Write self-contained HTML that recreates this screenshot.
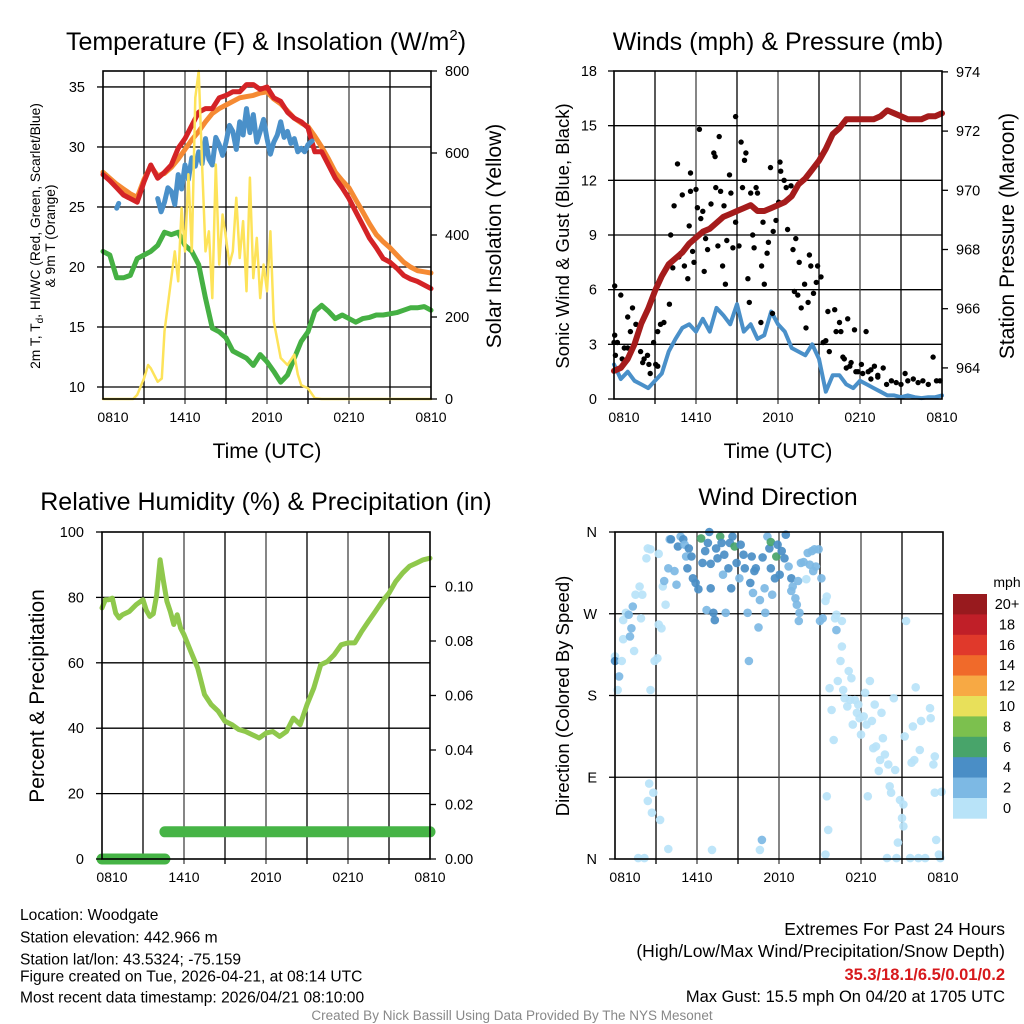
<!DOCTYPE html>
<html><head><meta charset="utf-8">
<style>
html,body{margin:0;padding:0;background:#fff;}
svg{display:block;font-family:"Liberation Sans",Arial,sans-serif;}
</style></head>
<body>
<svg id="chart" width="1024" height="1024" viewBox="0 0 1024 1024" xmlns="http://www.w3.org/2000/svg">
<rect width="1024" height="1024" fill="#fff"/>
<g id="p1"></g>
<g id="p2"></g>
<g id="p3"></g>
<g id="p4"></g>
<g font-size="15.6" fill="#000">
<text x="20" y="920">Location: Woodgate</text>
<text x="20" y="942.5">Station elevation: 442.966 m</text>
<text x="20" y="964.5">Station lat/lon: 43.5324; -75.159</text>
<text x="20" y="981.5">Figure created on Tue, 2026-04-21, at 08:14 UTC</text>
<text x="20" y="1002.5">Most recent data timestamp: 2026/04/21 08:10:00</text>
</g>
<g text-anchor="end">
<text x="1005" y="935" font-size="17.5">Extremes For Past 24 Hours</text>
<text x="1005" y="957" font-size="17.5">(High/Low/Max Wind/Precipitation/Snow Depth)</text>
<text x="1005" y="980" font-size="16.5" fill="#d7191c" font-weight="bold">35.3/18.1/6.5/0.01/0.2</text>
<text x="1005" y="1002" font-size="16.5">Max Gust: 15.5 mph On 04/20 at 1705 UTC</text>
</g>
<text x="512" y="1020" text-anchor="middle" font-size="13.5" fill="#888">Created By Nick Bassill Using Data Provided By The NYS Mesonet</text>
</svg>
<script>
// ---------- DATA ----------
const halfHours = [0,0.5,1,1.5,2,2.5,3,3.5,4,4.5,5,5.5,6,6.5,7,7.5,8,8.5,9,9.5,10,10.5,11,11.5,12,12.5,13,13.5,14,14.5,15,15.5,16,16.5,17,17.5,18,18.5,19,19.5,20,20.5,21,21.5,22,22.5,23,23.5,24];
const xTickLabels = ["0810","1410","2010","0210","0810"];
const xTickHours = [0,6,12,18,24];
const tempRed = [27.7,27.2,26.6,26.0,25.7,25.4,27.1,28.5,27.4,27.9,28.5,29.9,30.7,31.8,32.9,33.2,33.2,34.1,34.3,34.6,34.6,35.2,35.2,34.8,35.0,34.1,33.8,32.9,32.4,32.1,31.6,29.6,29.6,28.5,27.4,26.6,25.7,24.6,23.5,22.4,21.6,20.7,20.4,19.9,19.3,19.0,18.8,18.5,18.2];
const temp9mOrange = [27.9,27.4,26.9,26.5,26.1,25.8,27.3,28.4,27.6,27.8,28.3,29.0,29.8,30.6,31.3,32.1,32.8,33.2,33.5,33.8,34.1,34.2,34.3,34.5,34.6,34.0,33.6,33.0,32.4,32.0,31.7,30.9,30.0,29.0,27.9,27.2,26.6,25.6,24.6,23.6,22.7,22.1,21.6,21.0,20.4,20.0,19.7,19.6,19.5];
const dewGreen = [21.3,21.0,19.1,19.1,19.3,20.7,21.0,21.3,21.8,22.9,22.7,22.9,21.8,21.3,20.2,17.4,14.9,14.6,14.1,13.0,12.7,12.4,11.8,12.7,12.1,11.3,10.4,11.0,12.4,13.8,14.6,16.3,16.8,16.3,15.7,16.0,15.7,15.4,15.7,15.8,16.0,16.0,16.1,16.2,16.4,16.6,16.6,16.7,16.4];
const hiwcHours = [1,1.15,null,4,4.25,4.5,4.75,5,5.25,5.5,5.75,6,6.25,6.5,6.75,7,7.25,7.5,7.75,8,8.25,8.5,8.75,9,9.25,9.5,9.75,10,10.25,10.5,10.75,11,11.25,11.5,11.75,12,12.25,12.5,12.75,13,13.25,13.5,13.75,14,14.25,14.5,14.75,15,15.3];
const hiwcBlue = [24.9,25.3,null,25.7,24.6,25.4,26.6,26.3,25.2,27.7,26.5,28.5,27.3,29.1,28.4,29.6,28.6,30.7,29.0,28.5,30.8,30.2,29.3,30.4,31.8,31.3,29.8,32.1,31.0,33.2,31.2,32.7,30.4,31.3,32.3,30.7,29.4,30.4,31.0,32.1,30.8,31.3,30.3,30.7,29.6,29.9,29.6,30.2,30.5];
const solarHours = [0,2.2,2.5,3,3.3,3.5,4,4.3,4.5,5,5.25,5.5,5.75,6,6.25,6.5,6.75,7,7.25,7.5,7.75,8,8.25,8.5,8.75,9,9.25,9.5,9.75,10,10.25,10.5,10.75,11,11.25,11.5,11.75,12,12.25,12.5,13,13.5,14,14.25,14.5,15,15.5,16,24];
const solarYellow = [0,0,10,50,83,75,42,50,165,295,360,287,466,360,548,360,735,800,572,360,409,246,572,328,450,393,328,360,491,344,434,263,540,295,393,246,328,263,409,189,100,83,108,60,34,26,2,0,0];
const tempTicks = [10,15,20,25,30,35];
const solarTicks = [0,200,400,600,800];

const windBlue = [1.9,1.1,1.5,1.0,0.8,0.6,1.0,1.4,2.6,3.3,3.9,4.1,3.7,4.4,3.7,5.0,4.6,4.1,5.2,3.7,4.1,3.3,3.5,4.8,4.1,3.7,2.8,2.6,2.4,3.0,2.2,0.4,1.3,1.3,0.8,0.6,1.0,0.8,0.6,0.4,0.2,0.2,0.1,0.2,0.1,0.05,0.1,0.1,0.2];
const pressureMaroon = [963.9,964.0,964.3,964.8,965.5,966.0,966.6,967.1,967.5,967.7,967.9,968.2,968.4,968.6,968.7,968.9,969.1,969.2,969.3,969.4,969.5,969.3,969.3,969.4,969.5,969.6,969.8,970.2,970.4,970.7,971.0,971.4,971.9,972.1,972.4,972.4,972.4,972.4,972.4,972.5,972.7,972.6,972.5,972.4,972.4,972.4,972.5,972.5,972.6];
const gustHours = [0.05,0.05,0.5,0.25,0.75,1,1.2,1.35,1.6,1.95,2.1,2.45,2.65,3.2,2.9,3.2,3.4,3.65,4.05,4.15,4.3,4.4,4.65,4.75,4.9,5,5.15,5.4,5.5,5.6,5.6,5.75,5.85,6,6.1,6.25,6.35,6.5,6.6,6.7,6.85,7.1,7.3,7.4,7.45,7.6,7.7,7.8,7.95,8.05,8.15,8.25,8.45,8.55,8.7,8.9,8.9,9.15,9.3,9.4,9.55,9.65,9.8,9.9,10,10.15,10.25,10.4,10.5,10.75,10.8,10.9,11,11.2,11.3,11.45,11.6,11.65,11.85,12.05,12.15,12.2,12.45,12.6,12.7,12.95,13.1,13.2,13.3,13.45,13.55,13.7,13.95,14.05,14.2,14.3,14.4,14.6,14.8,14.9,15.15,15.3,15.5,15.65,15.75,16.15,16.25,16.5,16.6,16.85,17,17.1,17.35,17.6,17.85,18.1,18.45,18.6,18.8,19.05,19.3,19.7,19.95,20.3,20.65,21,21.3,21.5,21.9,22.25,22.6,23,23.35,23.6,23.85,16.75,17.25,17.7,18.2,18.8,19.3,0,0.1,0.6,1,2.2,2.55,3.05];
const gustMph = [3.5,6.2,5.7,3.1,2.8,4.5,3.7,5,4.1,2.6,2,2.4,1.4,1.8,3.1,3.7,4.1,4.2,5.2,9,7.2,10.6,12.9,7.8,8,11.2,7.3,6.6,9.5,12.4,11.4,8.1,7.5,11.5,10.5,14.8,9.9,10.3,7,8.8,8.2,10.7,13.5,13.3,11.6,8.4,14.4,11.4,7.3,10.6,6.3,8.7,12.3,11.3,8.3,15.5,9.7,8.4,14.1,11.6,13.1,13.5,6.6,5.3,11.3,9,8.3,11.6,11.3,4.2,7.3,9.7,6.3,8,8.6,12.7,4.7,9.2,9.8,10.8,13,12.5,12,11.6,9.3,11.7,8.2,5.9,8.8,5.7,7.5,5,6.3,3.9,5.3,7.9,7.3,5.8,6.4,7.3,6.7,3.1,3.2,4.8,2.6,4.9,3.7,4.2,3.7,2.2,1.7,4.4,2,3.8,1.5,1.9,3.7,1.5,1.1,1.8,1.2,1.7,0.8,1,0.9,0.8,1.4,1,1.1,0.9,1,0.8,2.3,1,1,2.3,1.8,1.5,1.4,1.6,1.3,3.1,2.4,2.2,2.8,2.2,1.9,1.9];
const windTicks = [0,3,6,9,12,15,18];
const pressureTicks = [964,966,968,970,972,974];

const rhHours = [0,0.25,0.5,0.75,1,1.25,1.5,2,2.5,3,3.25,3.5,3.75,4,4.25,4.5,4.75,5,5.25,5.5,5.75,6,6.5,7,7.5,8,8.5,9,9.5,10,10.5,11,11.5,12,12.5,13,13.5,14,14.5,15,15.5,16,16.5,17,17.5,18,18.5,19,19.5,20,20.5,21,21.5,22,22.5,23,23.5,24];
const rhValues = [76.8,79.3,79.3,79.8,75.2,73.7,74.7,75.7,77.8,79.3,76,74.2,75,80.8,91.5,84.9,78.8,75.7,71.7,74.7,70.6,68.6,63.5,58.4,50.3,47.2,45.2,42.1,41.1,39.6,39.0,38.0,37.0,38.5,39.0,37.5,39.0,43.1,41.1,47.2,52.3,59.4,60.4,62.5,65.5,66.1,66.1,69.6,72.7,75.7,78.8,81.3,84.9,87.5,89.5,90.5,91.5,92.0];
const precipHours = [0,2,4.6,4.6,10,16,24];
const precipValues = [0,0,0,0.01,0.01,0.01,0.01];
const rhTicks = [0,20,40,60,80,100];
const precipTicks = [0,0.02,0.04,0.06,0.08,0.10];

const dirHours = [0,0,0.2,0.3,0.5,0.6,0.6,0.8,1,1.1,1.2,1.3,1.4,1.5,1.8,1.9,2,2.3,2.4,2.6,2.6,2.9,3.1,3.2,3.4,3.2,3.5,3.6,3.7,3.9,4,4.1,4.35,4.5,4.6,4.8,5,5.1,5.2,5.3,5.4,5.6,5.7,5.9,6.1,6.3,6.4,6.6,6.7,6.8,6.9,7,7,7.2,7.3,7.4,7.5,7.7,7.8,7.9,8,8.1,8.3,8.4,8.5,8.6,8.75,8.9,9.1,9.2,9.4,9.5,9.7,9.8,9.9,10,10.1,10.2,10.3,10.5,10.6,10.8,10.95,11,11.15,11.3,11.4,11.4,11.5,11.7,11.8,11.9,12.05,12.2,12.4,12.5,12.7,12.9,12.9,13,13.2,13.3,13.4,13.5,13.45,13.6,13.8,14,14.1,14.25,14.4,14.5,14.6,14.7,14.9,15,15.1,15.2,15.4,15.5,15.4,15.5,15.6,15.7,15.85,16,16.1,16.2,16.2,16.6,16.6,16.3,16.5,16.7,16.8,17,17.1,17.2,17.3,17.4,17.55,17.7,17.8,17.9,18,18.2,18.3,18.4,18.5,18.65,18.8,18.9,19,19.1,19.3,19.4,19.5,19.6,19.75,19.9,20,20.1,20.2,20.4,20.5,20.6,20.7,20.85,21,21.1,21.1,21.2,21.3,21.6,21.7,21.8,21.9,22,22.2,22.3,22.4,22.7,23.05,23.1,23.3,23.4,23.4,23.5,23.7,23.9,23.8,2.5,2.8,2.4,2.7,3.3,3.9,1.7,2.15,7.1,10.75,10.6];
const dirDegrees = [223,218,186,201,218,242,263,271,269,245,254,278,229,291,300,265,291,331,342,341,186,218,221,258,254,336,300,306,280,320,352,352,317,302,344,355,352,346,333,320,342,333,309,304,297,353,326,339,274,348,360,325,298,271,263,342,331,355,348,313,335,271,320,348,298,355,344,326,309,346,335,320,271,218,304,333,293,317,320,255,285,332,298,271,355,342,349,320,291,309,333,346,313,339,331,357,322,309,295,300,287,280,306,271,262,326,327,308,337,324,339,317,341,322,341,262,309,265,284,289,5,69,32,188,164,131,265,269,252,262,234,196,218,186,177,168,207,175,199,148,175,161,170,155,137,157,183,148,69,196,152,122,170,124,97,109,161,133,115,1,104,80,73,177,98,1,18,65,45,60,36,135,262,1,106,146,109,189,1,120,152,1,166,155,104,73,113,21,5,74,1,83,73,64,51,43,11,1,1,10,21,10];
const dirSpeeds = [1,5,1,3,1,1,1,1,3,3,3,3,1,1,1,1,1,1,1,1,1,1,1,1,1,1,1,3,1,3,3,5,3,3,5,3,5,3,3,5,5,5,5,5,5,7,5,5,3,5,5,5,5,5,5,5,5,7,5,3,5,3,5,5,5,5,7,5,3,5,5,5,3,3,5,5,3,5,5,3,3,5,3,3,2,5,7,5,3,5,7,5,5,5,5,5,3,5,3,3,3,3,3,3,3,3,3,1,3,3,3,3,3,3,3,3,3,3,1,1,1,1,1,1,1,1,1,1,3,1,1,1,1,1,1,1,1,1,1,1,1,1,1,1,1,1,1,1,1,1,1,1,1,1,1,1,1,1,1,1,1,1,1,1,1,1,1,1,1,1,1,1,1,1,1,1,1,1,1,1,1,1,1,1,1,1,1,1,1,1,1,1,1,1,1,1,1,1,1,1,3,1,1,5,3,1];
const dirTickLabels = ["N","E","S","W","N"];
const dirTickValues = [0,90,180,270,360];
const speedBinLabels = ["0","2","4","6","8","10","12","14","16","18","20+"];
const speedBinColors = ["#b8e3f8","#7db9e4","#4a8ec6","#48a46a","#7cc04e","#e8e05a","#f7a944","#f06a2a","#e0392b","#c01f28","#981a1e"];

// ---------- HELPERS ----------
const NS = "http://www.w3.org/2000/svg";
function el(parent, tag, attrs, text) {
  const e = document.createElementNS(NS, tag);
  for (const k in attrs) e.setAttribute(k, attrs[k]);
  if (text !== undefined) e.textContent = text;
  parent.appendChild(e);
  return e;
}
function makeX(x0) { return h => x0 + h * 328 / 24; }
function makeY(top, bottom, vmin, vmax) { return v => bottom - (v - vmin) / (vmax - vmin) * (bottom - top); }
function pathD(xs, ys, sx, sy) {
  let d = "", pen = false;
  for (let i = 0; i < xs.length; i++) {
    if (xs[i] === null || ys[i] === null) { pen = false; continue; }
    d += (pen ? "L" : "M") + sx(xs[i]).toFixed(1) + "," + sy(ys[i]).toFixed(1);
    pen = true;
  }
  return d;
}
function frame(g, x0, top, bottom, name) {
  const fr = el(g, "rect", {x:x0, y:top, width:328, height:bottom-top, fill:"none", stroke:"#000", "stroke-width":1.6});
  
  
}
function vgrid(g, x0, top, bottom) {
  const sx = makeX(x0);
  for (let h = 3; h < 24; h += 3) {
    const ln = el(g, "line", {x1:sx(h), x2:sx(h), y1:top, y2:bottom+5, stroke:(h%6===0?"#444":"#000"), "stroke-width":1.3});
    
    
  }
}
function xAxis(g, x0, bottom, withTitle) {
  const sx = makeX(x0);
  xTickLabels.forEach((lab, i) => {
    let x = sx(xTickHours[i]);
    if (i === 0) x += 10;
    const t = el(g, "text", {x:x, y:bottom+23, "text-anchor":"middle", "font-size":14}, lab);
    
    
  });
  if (withTitle) {
    const tt = el(g, "text", {x:x0+164, y:bottom+59, "text-anchor":"middle", "font-size":21}, "Time (UTC)");
    
    
  }
}
function hgrid(g, x0, sy, ticks, labelX, fmt, name) {
  ticks.forEach(v => {
    const y = sy(v);
    const ln = el(g, "line", {x1:x0, x2:x0+328, y1:y, y2:y, stroke:"#000", "stroke-width":1.3});
    
    
  });
}
function yLabels(g, x, anchor, sy, ticks, labels, name, tickX, tickDir) {
  ticks.forEach((v, i) => {
    const y = sy(v);
    const t = el(g, "text", {x:x, y:y+5, "text-anchor":anchor, "font-size":14.5}, labels[i]);
    
    
    const tk = el(g, "line", {x1:tickX, x2:tickX+tickDir*6, y1:y, y2:y, stroke:"#000", "stroke-width":1.3});
    
    
  });
}
function rotText(g, x, y, size, txt, name) {
  const t = el(g, "text", {x:0, y:0, transform:`translate(${x},${y}) rotate(-90)`, "text-anchor":"middle", "font-size":size}, txt);
  
  
  return t;
}
function line(g, xs, ys, sx, sy, color, w, name) {
  const p = el(g, "path", {d:pathD(xs, ys, sx, sy), fill:"none", stroke:color, "stroke-width":w, "stroke-linejoin":"round", "stroke-linecap":"round"});
  
  
  return p;
}

// ---------- PANEL 1 ----------
(function(){
  const g = document.getElementById("p1");
  const x0 = 103, top = 71, bottom = 399;
  const sx = makeX(x0), sy = makeY(top, bottom, 9, 36.33), sy2 = makeY(top, bottom, 0, 800);
  const title = el(g, "text", {x:266, y:50, "text-anchor":"middle", "font-size":25});
  
  
  title.appendChild(document.createTextNode("Temperature (F) & Insolation (W/m"));
  el(title, "tspan", {dy:-10, "font-size":15}, "2");
  el(title, "tspan", {dy:10}, ")");
  hgrid(g, x0, sy, tempTicks, 0, null, "temp");
  vgrid(g, x0, top, bottom);
  line(g, halfHours, temp9mOrange, sx, sy, "#f58a33", 5, "temp-9m-line");
  line(g, halfHours, tempRed, sx, sy, "#d42326", 5, "temp-2m-line");
  line(g, hiwcHours, hiwcBlue, sx, sy, "#4a90c9", 5, "heat-index-line");
  line(g, halfHours, dewGreen, sx, sy, "#45b043", 5, "dewpoint-line");
  line(g, solarHours, solarYellow, sx, sy2, "#fde35a", 2.5, "solar-line");
  frame(g, x0, top, bottom, "temp");
  yLabels(g, 85, "end", sy, tempTicks, tempTicks.map(String), "temp-y", x0, -1);
  yLabels(g, 445, "start", sy2, solarTicks, solarTicks.map(String), "solar-y", x0+328, 1);
  xAxis(g, x0, bottom, true);
  rotText(g, 40, 236, 13.8, "2m T, T", "temp-y-title-line1");
  const t1 = g.lastChild; el(t1, "tspan", {dy:3, "font-size":10}, "d"); el(t1, "tspan", {dy:-3}, ", HI/WC (Red, Green, Scarlet/Blue)");
  rotText(g, 55, 236, 13.8, "& 9m T (Orange)", "temp-y-title-line2");
  rotText(g, 501, 236, 21, "Solar Insolation (Yellow)", "solar-y-title");
})();

// ---------- PANEL 2 ----------
(function(){
  const g = document.getElementById("p2");
  const x0 = 614, top = 71, bottom = 399;
  const sx = makeX(x0), sy = makeY(top, bottom, 0, 18), sy2 = makeY(top, bottom, 962.95, 974.03);
  const title = el(g, "text", {x:778, y:50, "text-anchor":"middle", "font-size":25}, "Winds (mph) & Pressure (mb)");
  
  
  hgrid(g, x0, sy, windTicks.slice(1,6), 0, null, "wind");
  vgrid(g, x0, top, bottom);
  line(g, halfHours, windBlue, sx, sy, "#4a90c9", 4, "wind-speed-line");
  gustHours.forEach((h, i) => {
    const c = el(g, "circle", {cx:sx(h).toFixed(1), cy:sy(gustMph[i]).toFixed(1), r:2.7, fill:"#000"});
    
    
  });
  line(g, halfHours, pressureMaroon, sx, sy2, "#a51c1c", 6, "pressure-line");
  frame(g, x0, top, bottom, "winds");
  yLabels(g, 597, "end", sy, windTicks, windTicks.map(String), "wind-y", x0, -1);
  yLabels(g, 956, "start", sy2, pressureTicks, pressureTicks.map(String), "pressure-y", x0+328, 1);
  xAxis(g, x0, bottom, true);
  rotText(g, 569, 236, 18.5, "Sonic Wind & Gust (Blue, Black)", "wind-y-title");
  rotText(g, 1014, 236, 21, "Station Pressure (Maroon)", "pressure-y-title");
})();

// ---------- PANEL 3 ----------
(function(){
  const g = document.getElementById("p3");
  const x0 = 102, top = 532, bottom = 859;
  const sx = makeX(x0), sy = makeY(top, bottom, 0, 100), sy2 = makeY(top, bottom, 0, 0.12);
  const title = el(g, "text", {x:266, y:510, "text-anchor":"middle", "font-size":25}, "Relative Humidity (%) & Precipitation (in)");
  
  
  hgrid(g, x0, sy, [20,40,60,80], 0, null, "rh");
  vgrid(g, x0, top, bottom);
  line(g, rhHours, rhValues, sx, sy, "#8fc84c", 5, "rh-line");
  let segH = [], segV = [];
  for (let i = 0; i < precipHours.length; i++) {
    if (i > 0 && precipValues[i] !== precipValues[i-1]) { segH.push(null); segV.push(null); }
    segH.push(precipHours[i]); segV.push(precipValues[i]);
  }
  line(g, segH, segV, sx, sy2, "#46b446", 11, "precip-line");
  frame(g, x0, top, bottom, "rh");
  yLabels(g, 84, "end", sy, rhTicks, rhTicks.map(String), "rh-y", x0, -1);
  yLabels(g, 445, "start", sy2, precipTicks, precipTicks.map(v => v.toFixed(2)), "precip-y", x0+328, 1);
  xAxis(g, x0, bottom, false);
  rotText(g, 44, 696, 21, "Percent & Precipitation", "rh-y-title");
})();

// ---------- PANEL 4 ----------
(function(){
  const g = document.getElementById("p4");
  const x0 = 615, top = 532, bottom = 859;
  const sx = makeX(x0), sy = makeY(top, bottom, 0, 360);
  const title = el(g, "text", {x:778, y:505, "text-anchor":"middle", "font-size":24.5}, "Wind Direction");
  
  
  hgrid(g, x0, sy, [90,180,270], 0, null, "dir");
  vgrid(g, x0, top, bottom);
  dirHours.forEach((h, i) => {
    const bin = Math.max(0, Math.min(10, Math.floor(dirSpeeds[i] / 2)));
    const c = el(g, "circle", {cx:sx(h).toFixed(1), cy:sy(dirDegrees[i]).toFixed(1), r:4.3, fill:speedBinColors[bin], "fill-opacity":0.92});
    
    
  });
  frame(g, x0, top, bottom, "dir");
  yLabels(g, 597, "end", sy, dirTickValues, dirTickLabels, "dir-y", x0, -1);
  xAxis(g, x0, bottom, false);
  rotText(g, 569, 696, 18.5, "Direction (Colored By Speed)", "dir-y-title");
  const cb = el(g, "g", {});
  
  
  const cbTop = 594, binH = 20.4;
  const unit = el(cb, "text", {x:1007, y:587, "text-anchor":"middle", "font-size":14}, "mph");
  
  
  for (let i = 0; i < speedBinLabels.length; i++) {
    const k = speedBinLabels.length - 1 - i;
    const y = cbTop + i * binH;
    const r = el(cb, "rect", {x:953, y:y, width:34, height:binH+0.3, fill:speedBinColors[k]});
    
    
    const t = el(cb, "text", {x:1007, y:y+15, "text-anchor":"middle", "font-size":14.5}, speedBinLabels[k]);
    
    
  }
})();
</script>
</body></html>
